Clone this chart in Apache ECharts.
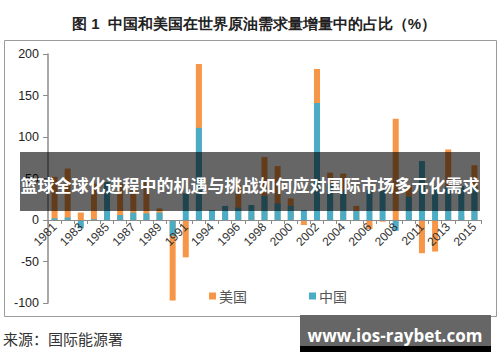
<!DOCTYPE html>
<html>
<head>
<meta charset="utf-8">
<script src="https://cdn.jsdelivr.net/npm/echarts@6/dist/echarts.min.js"></script>
<style>
html,body{margin:0;padding:0;background:#fff;}
#c{width:500px;height:362px;}
</style>
</head>
<body>
<div id="c"></div>
<script>
const years = ['1981','1982','1983','1984','1985','1986','1987','1988','1989','1990','1991','1993','1994','1995','1996','1997','1998','1999','2000','2001','2002','2003','2004','2005','2006','2007','2008','2010','2011','2012','2013','2014','2015'];
const usShare = [52,62,9,44,10,44,36,46,14,-97,-45,188,5,8,42,10,76,65,26,-6,182,57,56,17,-11,-2,122,42,-40,-38,85,5,66];
const cnShare = [2,3,-10,1,46,6,9,8,9,-19,32,111,12,17,15,18,29,20,17,12,141,44,36,11,36,36,-13,28,71,41,40,41,40];
const yTicks = {min:-100, max:200, interval:50};
const titleText = '图 1  中国和美国在世界原油需求量增量中的占比（%）';
const bandText = '篮球全球化进程中的机遇与挑战如何应对国际市场多元化需求';
const sourceText = '来源：国际能源署';
const markText = 'www.ios-raybet.com';

const chart = echarts.init(document.getElementById('c'), null, {renderer:'svg'});
const cjk = '"Noto Sans CJK SC", sans-serif';
chart.setOption({
  animation:false,
  backgroundColor:'#fff',
  grid:{left:48, right:19, top:54, bottom:59, containLabel:false},
  legend:{
    left:204, top:284, itemWidth:7, itemHeight:7, itemGap:62, icon:'rect',
    textStyle:{fontSize:14, color:'#555', fontFamily:cjk, padding:[0,0,0,-2]},
    data:['美国','中国']
  },
  xAxis:{
    type:'category', data:years, boundaryGap:true, position:'bottom', offset:-83, z:5,
    axisLine:{onZero:false, lineStyle:{color:'#8c8c8c', width:1}},
    axisTick:{show:true, alignWithLabel:false, interval:0, length:4, lineStyle:{color:'#8c8c8c'}},
    axisLabel:{interval:1, rotate:45, margin:5, fontSize:12, color:'#333', fontFamily:'"Liberation Sans", sans-serif'}
  },
  yAxis:{
    type:'value', min:yTicks.min, max:yTicks.max, interval:yTicks.interval,
    splitLine:{show:false},
    axisLine:{show:true, lineStyle:{color:'#8c8c8c', width:1.5}},
    axisTick:{show:true, length:5, lineStyle:{color:'#8c8c8c'}},
    axisLabel:{margin:9, fontSize:12.5, color:'#222', fontFamily:'"Liberation Sans", sans-serif'}
  },
  series:[
    {name:'美国', type:'bar', data:usShare, barWidth:6, barGap:'-100%', itemStyle:{color:'#F79646'}},
    {name:'中国', type:'bar', data:cnShare, barWidth:6, barGap:'-100%', itemStyle:{color:'#4BACC6'}}
  ],
  graphic:[
    {type:'rect', z:1, silent:true, shape:{x:4.5, y:40.5, width:492, height:276}, style:{fill:'none', stroke:'#9a9a9a', lineWidth:1}},
    {type:'text', z:10, left:72, top:16, style:{text:titleText, fontSize:15, fontWeight:'bold', fill:'#222', font:'bold 15px '+cjk}},
    {type:'rect', z:100, silent:true, shape:{x:20, y:152, width:460, height:59}, style:{fill:'rgba(0,0,0,0.6)'}},
    {type:'text', z:101, silent:true, x:250, y:184, style:{text:bandText, fill:'#fff', font:'bold 17px '+cjk, align:'center', verticalAlign:'middle'}},
    {type:'text', z:10, x:3, y:338, style:{text:sourceText, fill:'#333', font:'15px '+cjk, verticalAlign:'middle'}},
    {type:'rect', z:100, silent:true, shape:{x:300, y:315, width:191, height:31}, style:{fill:'#666'}},
    {type:'rect', z:100, silent:true, shape:{x:300, y:346, width:191, height:6}, style:{fill:'#000'}},
    {type:'text', z:101, silent:true, x:395, y:335, style:{text:markText, fill:'#fff', font:'bold 17px "Open Sans", sans-serif', align:'center', verticalAlign:'middle'}}
  ]
});
</script>
</body>
</html>
